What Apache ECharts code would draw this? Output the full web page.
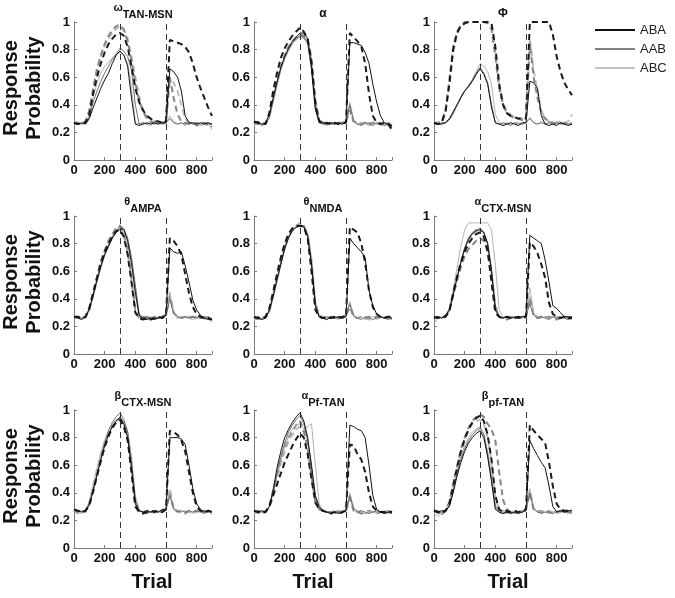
<!DOCTYPE html>
<html><head><meta charset="utf-8">
<script src="https://cdn.jsdelivr.net/npm/echarts@6/dist/echarts.min.js"></script>
<style>html,body{margin:0;padding:0;background:#fff}#c{width:675px;height:598px}</style>
</head><body><div id="c"></div>
<script>
const trials = [0,25,50,75,100,125,150,175,200,225,250,275,300,325,350,375,400,425,450,475,500,525,550,575,600,625,650,675,700,725,750,775,800,825,850,875,900];
const panelGreek = ['ω','α','Φ','θ','θ','α','β','α','β'];
const panelSub = ['TAN-MSN','','','AMPA','NMDA','CTX-MSN','CTX-MSN','Pf-TAN','pf-TAN'];
const legendNames = ['ABA','AAB','ABC'];
const xTickLabels = ['0','200','400','600','800'];
const yTickLabels = ['0','0.2','0.4','0.6','0.8','1'];

// Panel 1: omega TAN-MSN
const p1ABA  = [0.27,0.26,0.27,0.26,0.30,0.38,0.45,0.52,0.58,0.63,0.70,0.76, 0.79,0.76,0.68,0.45,0.26,0.25,0.26,0.27,0.26,0.27,0.26,0.27, 0.27,0.66,0.64,0.60,0.50,0.32,0.27,0.27,0.26,0.27,0.26,0.27,0.26];
const p1AAB  = [0.27,0.27,0.26,0.27,0.31,0.42,0.50,0.57,0.63,0.68,0.73,0.77, 0.81,0.79,0.75,0.65,0.40,0.26,0.27,0.26,0.27,0.26,0.27,0.26, 0.27,0.30,0.27,0.26,0.27,0.26,0.27,0.26,0.27,0.26,0.27,0.26,0.26];
const p1ABC  = [0.28,0.27,0.26,0.27,0.33,0.46,0.56,0.63,0.68,0.71,0.74,0.76, 0.78,0.76,0.70,0.52,0.27,0.26,0.27,0.26,0.25,0.27,0.26,0.27, 0.27,0.32,0.28,0.26,0.27,0.25,0.27,0.26,0.27,0.25,0.26,0.27,0.22];
const p1ABAd = [0.27,0.26,0.27,0.27,0.33,0.48,0.60,0.70,0.78,0.84,0.88,0.91, 0.92,0.90,0.82,0.68,0.52,0.42,0.36,0.32,0.30,0.28,0.28,0.27, 0.28,0.87,0.86,0.85,0.84,0.82,0.78,0.70,0.60,0.52,0.45,0.38,0.32];
const p1AABd = [0.27,0.26,0.27,0.28,0.36,0.52,0.66,0.76,0.84,0.90,0.94,0.97, 0.98,0.94,0.86,0.72,0.56,0.43,0.35,0.30,0.28,0.27,0.27,0.27, 0.28,0.60,0.45,0.33,0.28,0.27,0.26,0.27,0.25,0.26,0.27,0.25,0.24];
const p1ABCd = [0.28,0.27,0.26,0.27,0.35,0.50,0.64,0.75,0.83,0.88,0.92,0.95, 0.97,0.95,0.88,0.75,0.60,0.46,0.37,0.32,0.29,0.28,0.27,0.26, 0.27,0.58,0.56,0.50,0.40,0.30,0.27,0.26,0.27,0.25,0.26,0.27,0.24];
// Panel 2: alpha
const p2ABA  = [0.27,0.28,0.26,0.27,0.33,0.45,0.57,0.67,0.75,0.81,0.86,0.89, 0.92,0.92,0.88,0.68,0.38,0.28,0.27,0.26,0.27,0.26,0.27,0.26, 0.27,0.85,0.85,0.84,0.83,0.78,0.70,0.55,0.42,0.32,0.27,0.26,0.25];
const p2AAB  = [0.26,0.27,0.25,0.26,0.31,0.43,0.55,0.66,0.74,0.80,0.85,0.88, 0.90,0.89,0.85,0.65,0.36,0.27,0.26,0.27,0.26,0.27,0.26,0.27, 0.27,0.40,0.28,0.26,0.25,0.27,0.26,0.25,0.27,0.26,0.25,0.26,0.24];
const p2ABC  = [0.25,0.27,0.26,0.27,0.30,0.42,0.54,0.65,0.73,0.79,0.84,0.87, 0.89,0.88,0.84,0.66,0.38,0.27,0.26,0.25,0.27,0.26,0.27,0.26, 0.28,0.42,0.29,0.26,0.27,0.26,0.25,0.26,0.27,0.25,0.26,0.25,0.24];
const p2ABAd = [0.28,0.27,0.26,0.26,0.34,0.50,0.63,0.74,0.81,0.86,0.90,0.93, 0.96,0.93,0.88,0.70,0.40,0.28,0.26,0.27,0.26,0.27,0.26,0.27, 0.27,0.92,0.89,0.86,0.82,0.70,0.48,0.32,0.27,0.26,0.27,0.26,0.22];
const p2AABd = [0.27,0.26,0.27,0.26,0.32,0.46,0.58,0.68,0.76,0.82,0.86,0.89, 0.91,0.90,0.87,0.74,0.44,0.29,0.27,0.26,0.27,0.26,0.27,0.27, 0.28,0.36,0.28,0.27,0.26,0.27,0.26,0.27,0.26,0.27,0.26,0.27,0.25];
const p2ABCd = [0.26,0.27,0.26,0.27,0.31,0.44,0.56,0.67,0.75,0.81,0.85,0.88, 0.90,0.89,0.86,0.72,0.42,0.28,0.27,0.26,0.26,0.27,0.26,0.27, 0.28,0.38,0.27,0.26,0.27,0.26,0.27,0.26,0.26,0.27,0.26,0.27,0.24];
// Panel 3: Phi
const p3ABA  = [0.27,0.26,0.26,0.27,0.30,0.35,0.40,0.45,0.50,0.53,0.57,0.62, 0.66,0.62,0.55,0.38,0.27,0.26,0.25,0.26,0.27,0.26,0.25,0.27, 0.27,0.57,0.56,0.52,0.32,0.26,0.25,0.26,0.25,0.27,0.26,0.25,0.26];
const p3AAB  = [0.27,0.26,0.27,0.27,0.29,0.34,0.40,0.46,0.50,0.54,0.58,0.63, 0.67,0.63,0.56,0.40,0.27,0.26,0.27,0.26,0.25,0.27,0.26,0.26, 0.27,0.30,0.27,0.26,0.27,0.26,0.27,0.26,0.27,0.26,0.27,0.26,0.26];
const p3ABC  = [0.28,0.27,0.26,0.27,0.29,0.33,0.39,0.45,0.50,0.54,0.58,0.64, 0.70,0.68,0.64,0.55,0.33,0.27,0.26,0.27,0.26,0.27,0.27,0.26, 0.27,0.31,0.27,0.26,0.28,0.26,0.27,0.26,0.28,0.26,0.27,0.26,0.27];
const p3ABAd = [0.27,0.26,0.27,0.35,0.55,0.80,0.92,0.97,0.99,1.00,1.00,1.00, 1.00,1.00,1.00,0.99,0.82,0.55,0.40,0.34,0.32,0.31,0.30,0.30, 0.30,1.00,1.00,1.00,1.00,1.00,1.00,0.91,0.75,0.64,0.56,0.51,0.47];
const p3AABd = [0.26,0.27,0.28,0.36,0.58,0.82,0.93,0.98,1.00,1.00,1.00,1.00, 1.00,1.00,0.99,0.95,0.75,0.52,0.40,0.34,0.32,0.30,0.30,0.29, 0.30,0.85,0.60,0.45,0.34,0.30,0.28,0.27,0.26,0.27,0.26,0.27,0.26];
const p3ABCd = [0.27,0.27,0.27,0.34,0.54,0.78,0.91,0.97,0.99,1.00,1.00,1.00, 1.00,1.00,1.00,0.97,0.80,0.55,0.42,0.35,0.33,0.31,0.30,0.30, 0.31,0.88,0.65,0.50,0.36,0.30,0.28,0.27,0.27,0.28,0.27,0.28,0.33];
// Panel 4: theta AMPA
const p4ABA  = [0.27,0.26,0.25,0.27,0.33,0.43,0.54,0.64,0.72,0.78,0.84,0.88, 0.91,0.90,0.82,0.66,0.45,0.28,0.26,0.25,0.26,0.25,0.26,0.27, 0.28,0.77,0.74,0.73,0.74,0.64,0.52,0.39,0.32,0.28,0.26,0.25,0.25];
const p4AAB  = [0.26,0.27,0.26,0.27,0.32,0.42,0.53,0.63,0.72,0.79,0.85,0.89, 0.93,0.91,0.84,0.70,0.50,0.29,0.26,0.27,0.26,0.27,0.26,0.27, 0.28,0.40,0.29,0.27,0.26,0.27,0.26,0.27,0.26,0.27,0.26,0.27,0.25];
const p4ABC  = [0.28,0.27,0.26,0.27,0.31,0.41,0.52,0.62,0.71,0.78,0.84,0.88, 0.90,0.88,0.80,0.64,0.42,0.27,0.26,0.25,0.27,0.26,0.27,0.26, 0.28,0.45,0.30,0.27,0.26,0.27,0.26,0.25,0.26,0.27,0.25,0.26,0.24];
const p4ABAd = [0.27,0.27,0.26,0.27,0.33,0.44,0.55,0.66,0.74,0.80,0.85,0.89, 0.90,0.85,0.72,0.52,0.30,0.26,0.25,0.26,0.25,0.26,0.27,0.26, 0.28,0.84,0.82,0.78,0.72,0.58,0.44,0.34,0.29,0.27,0.26,0.26,0.25];
const p4AABd = [0.26,0.27,0.26,0.27,0.34,0.45,0.56,0.67,0.75,0.82,0.87,0.91, 0.93,0.88,0.75,0.55,0.32,0.26,0.27,0.26,0.27,0.26,0.26,0.27, 0.28,0.42,0.30,0.27,0.26,0.27,0.26,0.27,0.26,0.26,0.27,0.26,0.24];
const p4ABCd = [0.27,0.26,0.27,0.26,0.32,0.43,0.55,0.66,0.74,0.81,0.86,0.90, 0.92,0.86,0.74,0.53,0.31,0.27,0.26,0.27,0.26,0.27,0.26,0.27, 0.29,0.44,0.30,0.26,0.27,0.26,0.27,0.26,0.27,0.26,0.26,0.27,0.25];
// Panel 5: theta NMDA
const p5ABA  = [0.27,0.26,0.25,0.26,0.32,0.42,0.54,0.65,0.76,0.84,0.89,0.92, 0.93,0.92,0.85,0.65,0.35,0.27,0.26,0.25,0.27,0.26,0.27,0.26, 0.27,0.84,0.80,0.77,0.74,0.70,0.46,0.35,0.29,0.27,0.26,0.27,0.26];
const p5AAB  = [0.26,0.25,0.26,0.27,0.31,0.42,0.54,0.66,0.77,0.85,0.90,0.92, 0.93,0.93,0.86,0.66,0.36,0.27,0.26,0.27,0.26,0.27,0.26,0.27, 0.28,0.36,0.28,0.26,0.25,0.27,0.26,0.25,0.26,0.27,0.26,0.25,0.26];
const p5ABC  = [0.25,0.26,0.25,0.27,0.30,0.40,0.52,0.64,0.76,0.85,0.90,0.92, 0.92,0.93,0.88,0.70,0.38,0.27,0.26,0.25,0.27,0.26,0.25,0.27, 0.28,0.38,0.27,0.26,0.27,0.25,0.26,0.27,0.25,0.26,0.27,0.26,0.25];
const p5ABAd = [0.27,0.26,0.26,0.27,0.33,0.45,0.58,0.70,0.80,0.87,0.91,0.93, 0.93,0.92,0.84,0.60,0.32,0.27,0.26,0.27,0.26,0.27,0.26,0.27, 0.27,0.92,0.90,0.88,0.80,0.66,0.46,0.34,0.29,0.27,0.26,0.27,0.27];
const p5AABd = [0.26,0.27,0.26,0.26,0.32,0.44,0.56,0.68,0.78,0.86,0.90,0.92, 0.93,0.93,0.86,0.66,0.36,0.28,0.26,0.27,0.26,0.26,0.27,0.26, 0.28,0.34,0.27,0.26,0.27,0.26,0.27,0.26,0.27,0.26,0.26,0.27,0.26];
const p5ABCd = [0.25,0.26,0.27,0.26,0.31,0.43,0.55,0.67,0.77,0.85,0.90,0.93, 0.95,0.93,0.87,0.68,0.37,0.28,0.27,0.26,0.27,0.26,0.27,0.26, 0.28,0.37,0.27,0.26,0.27,0.26,0.25,0.26,0.27,0.26,0.27,0.26,0.26];
// Panel 6: alpha CTX-MSN
const p6ABA  = [0.26,0.27,0.26,0.28,0.32,0.43,0.55,0.66,0.76,0.83,0.87,0.89, 0.90,0.88,0.80,0.60,0.32,0.27,0.26,0.27,0.26,0.27,0.26,0.27, 0.27,0.86,0.84,0.82,0.80,0.68,0.52,0.35,0.33,0.30,0.27,0.27,0.27];
const p6AAB  = [0.25,0.27,0.26,0.27,0.31,0.42,0.55,0.67,0.77,0.84,0.88,0.90, 0.91,0.88,0.80,0.62,0.35,0.27,0.26,0.27,0.27,0.26,0.26,0.27, 0.28,0.36,0.28,0.26,0.27,0.26,0.25,0.27,0.26,0.27,0.26,0.25,0.26];
const p6ABC  = [0.22,0.26,0.27,0.28,0.33,0.47,0.62,0.78,0.90,0.95,0.95,0.95, 0.95,0.95,0.95,0.90,0.65,0.32,0.27,0.26,0.27,0.26,0.27,0.26, 0.28,0.48,0.30,0.27,0.26,0.27,0.26,0.27,0.26,0.27,0.26,0.26,0.25];
const p6ABAd = [0.27,0.26,0.27,0.27,0.31,0.44,0.56,0.66,0.74,0.80,0.84,0.87, 0.88,0.85,0.75,0.52,0.30,0.27,0.26,0.27,0.26,0.26,0.27,0.26, 0.27,0.81,0.78,0.73,0.65,0.55,0.37,0.29,0.27,0.26,0.27,0.26,0.26];
const p6AABd = [0.26,0.27,0.26,0.27,0.31,0.42,0.53,0.63,0.71,0.76,0.79,0.82, 0.84,0.82,0.74,0.58,0.34,0.27,0.26,0.25,0.26,0.27,0.26,0.26, 0.27,0.40,0.28,0.26,0.27,0.26,0.27,0.26,0.25,0.26,0.27,0.26,0.25];
const p6ABCd = [0.27,0.26,0.27,0.27,0.32,0.44,0.56,0.67,0.76,0.83,0.87,0.90, 0.91,0.88,0.78,0.58,0.32,0.27,0.26,0.27,0.26,0.27,0.26,0.27, 0.28,0.42,0.29,0.27,0.26,0.27,0.26,0.26,0.27,0.26,0.27,0.26,0.25];
// Panel 7: beta CTX-MSN
const p7ABA  = [0.28,0.27,0.26,0.27,0.32,0.42,0.53,0.64,0.74,0.82,0.88,0.92, 0.95,0.90,0.80,0.58,0.32,0.27,0.26,0.27,0.26,0.27,0.26,0.28, 0.28,0.80,0.80,0.80,0.79,0.75,0.60,0.43,0.32,0.28,0.26,0.27,0.26];
const p7AAB  = [0.27,0.26,0.27,0.26,0.31,0.41,0.53,0.65,0.76,0.85,0.91,0.95, 0.98,0.93,0.84,0.63,0.35,0.27,0.26,0.25,0.26,0.27,0.26,0.27, 0.28,0.38,0.28,0.26,0.27,0.26,0.27,0.26,0.27,0.26,0.25,0.27,0.26];
const p7ABC  = [0.27,0.26,0.25,0.27,0.34,0.46,0.58,0.69,0.78,0.85,0.90,0.93, 0.94,0.92,0.85,0.66,0.38,0.28,0.26,0.27,0.26,0.25,0.27,0.26, 0.28,0.42,0.29,0.27,0.26,0.27,0.26,0.25,0.26,0.27,0.26,0.27,0.24];
const p7ABAd = [0.28,0.27,0.26,0.27,0.31,0.41,0.52,0.63,0.73,0.81,0.87,0.91, 0.93,0.88,0.78,0.55,0.30,0.26,0.25,0.26,0.27,0.26,0.27,0.26, 0.28,0.85,0.84,0.82,0.78,0.70,0.55,0.40,0.30,0.27,0.26,0.27,0.26];
const p7AABd = [0.26,0.27,0.26,0.27,0.32,0.43,0.55,0.66,0.75,0.83,0.88,0.91, 0.93,0.89,0.79,0.57,0.31,0.27,0.26,0.27,0.26,0.27,0.26,0.27, 0.28,0.40,0.28,0.27,0.26,0.25,0.27,0.26,0.27,0.26,0.27,0.26,0.25];
const p7ABCd = [0.27,0.25,0.26,0.26,0.33,0.45,0.57,0.68,0.77,0.84,0.89,0.92, 0.93,0.90,0.82,0.60,0.33,0.27,0.26,0.25,0.26,0.27,0.26,0.26, 0.29,0.43,0.29,0.26,0.27,0.26,0.26,0.27,0.26,0.27,0.26,0.26,0.24];
// Panel 8: alpha Pf-TAN
const p8ABA  = [0.27,0.26,0.27,0.26,0.30,0.42,0.58,0.70,0.80,0.86,0.91,0.95, 0.98,0.92,0.80,0.60,0.38,0.30,0.27,0.26,0.25,0.26,0.25,0.26, 0.27,0.89,0.88,0.86,0.85,0.80,0.60,0.38,0.28,0.26,0.25,0.26,0.26];
const p8AAB  = [0.26,0.27,0.26,0.27,0.30,0.40,0.54,0.66,0.76,0.84,0.89,0.93, 0.96,0.90,0.78,0.58,0.36,0.29,0.27,0.26,0.25,0.26,0.27,0.25, 0.27,0.38,0.28,0.26,0.27,0.26,0.25,0.26,0.27,0.26,0.25,0.26,0.25];
const p8ABC  = [0.26,0.25,0.26,0.27,0.30,0.40,0.52,0.63,0.73,0.81,0.86,0.89, 0.90,0.86,0.88,0.90,0.60,0.32,0.27,0.26,0.25,0.26,0.27,0.26, 0.27,0.40,0.29,0.27,0.26,0.25,0.27,0.26,0.25,0.26,0.27,0.25,0.26];
const p8ABAd = [0.27,0.26,0.25,0.26,0.30,0.38,0.46,0.54,0.62,0.68,0.74,0.79, 0.83,0.80,0.68,0.50,0.33,0.28,0.27,0.26,0.25,0.26,0.25,0.26, 0.27,0.75,0.74,0.68,0.64,0.55,0.40,0.30,0.27,0.26,0.26,0.27,0.26];
const p8AABd = [0.26,0.27,0.26,0.26,0.31,0.42,0.53,0.64,0.73,0.80,0.85,0.89, 0.92,0.85,0.72,0.52,0.33,0.28,0.27,0.26,0.26,0.25,0.26,0.26, 0.27,0.36,0.27,0.26,0.25,0.26,0.27,0.26,0.25,0.26,0.27,0.26,0.25];
const p8ABCd = [0.25,0.26,0.26,0.27,0.29,0.39,0.50,0.61,0.70,0.77,0.82,0.86, 0.88,0.84,0.74,0.56,0.36,0.29,0.27,0.26,0.26,0.27,0.26,0.27, 0.28,0.38,0.28,0.26,0.27,0.25,0.26,0.27,0.26,0.25,0.26,0.27,0.25];
// Panel 9: beta pf-TAN
const p9ABA  = [0.28,0.26,0.27,0.27,0.30,0.40,0.52,0.62,0.70,0.76,0.80,0.83, 0.85,0.80,0.66,0.48,0.28,0.26,0.25,0.26,0.25,0.26,0.25,0.26, 0.27,0.78,0.72,0.67,0.62,0.58,0.45,0.30,0.26,0.27,0.26,0.27,0.27];
const p9AAB  = [0.27,0.25,0.26,0.27,0.31,0.41,0.54,0.64,0.72,0.78,0.82,0.85, 0.87,0.82,0.68,0.50,0.30,0.26,0.25,0.26,0.26,0.25,0.26,0.27, 0.28,0.40,0.28,0.26,0.25,0.26,0.26,0.25,0.26,0.27,0.26,0.26,0.25];
const p9ABC  = [0.25,0.23,0.25,0.27,0.32,0.43,0.56,0.66,0.74,0.80,0.84,0.86, 0.88,0.83,0.70,0.52,0.31,0.27,0.26,0.25,0.26,0.27,0.26,0.26, 0.28,0.43,0.29,0.26,0.27,0.26,0.25,0.26,0.27,0.26,0.26,0.25,0.26];
const p9ABAd = [0.27,0.26,0.25,0.27,0.32,0.45,0.58,0.70,0.79,0.86,0.91,0.94, 0.96,0.92,0.82,0.64,0.38,0.28,0.26,0.27,0.26,0.27,0.26,0.27, 0.28,0.89,0.85,0.82,0.79,0.76,0.62,0.45,0.32,0.28,0.27,0.27,0.28];
const p9AABd = [0.26,0.27,0.24,0.28,0.33,0.46,0.59,0.71,0.80,0.87,0.92,0.95, 0.97,0.95,0.90,0.86,0.78,0.55,0.35,0.28,0.26,0.27,0.26,0.27, 0.28,0.40,0.28,0.27,0.26,0.27,0.26,0.25,0.26,0.27,0.26,0.27,0.26];
const p9ABCd = [0.27,0.26,0.25,0.26,0.31,0.44,0.57,0.69,0.78,0.85,0.90,0.92, 0.93,0.90,0.80,0.62,0.36,0.28,0.27,0.26,0.27,0.26,0.27,0.26, 0.28,0.42,0.29,0.26,0.27,0.26,0.27,0.26,0.25,0.26,0.27,0.26,0.26];

const panels = [
  [p1ABA,p1AAB,p1ABC,p1ABAd,p1AABd,p1ABCd],
  [p2ABA,p2AAB,p2ABC,p2ABAd,p2AABd,p2ABCd],
  [p3ABA,p3AAB,p3ABC,p3ABAd,p3AABd,p3ABCd],
  [p4ABA,p4AAB,p4ABC,p4ABAd,p4AABd,p4ABCd],
  [p5ABA,p5AAB,p5ABC,p5ABAd,p5AABd,p5ABCd],
  [p6ABA,p6AAB,p6ABC,p6ABAd,p6AABd,p6ABCd],
  [p7ABA,p7AAB,p7ABC,p7ABAd,p7AABd,p7ABCd],
  [p8ABA,p8AAB,p8ABC,p8ABAd,p8AABd,p8ABCd],
  [p9ABA,p9AAB,p9ABC,p9ABAd,p9AABd,p9ABCd]
];

const FONT = 'Liberation Sans, Arial, Helvetica, sans-serif';
const colors = ['#111111','#707070','#b4b4b4'];
const dashColors = ['#1a1a1a','#858585','#bdbdbd'];
const lefts = [74,254,434], tops = [22,216,410], W = 138, H = 138;

const grid = [], xAxis = [], yAxis = [], series = [], title = [];
for (let i = 0; i < 9; i++) {
  const r = Math.floor(i/3), c = i%3;
  grid.push({left: lefts[c], top: tops[r], width: W, height: H});
  xAxis.push({gridIndex:i, type:'value', min:0, max:900, interval:200,
    axisLine:{lineStyle:{color:'#7a7a7a', width:1}},
    axisTick:{inside:true, length:3, lineStyle:{color:'#7a7a7a'}},
    splitLine:{show:false},
    axisLabel:{color:'#111', fontWeight:'bold', fontSize:13, fontFamily:FONT, margin:4,
      formatter: v => { const k = Math.round(v/200); return (v % 200 === 0 && k < xTickLabels.length) ? xTickLabels[k] : ''; }}
  });
  yAxis.push({gridIndex:i, type:'value', min:0, max:1, interval:0.2,
    axisLine:{show:true, lineStyle:{color:'#7a7a7a', width:1}},
    axisTick:{show:true, inside:true, length:3, lineStyle:{color:'#7a7a7a'}},
    splitLine:{show:false},
    axisLabel:{color:'#111', fontWeight:'bold', fontSize:13, fontFamily:FONT, margin:4,
      formatter: v => yTickLabels[Math.round(v*5)]}
  });
  const sub = panelSub[i];
  title.push({
    text: sub ? '{g|' + panelGreek[i] + '}{s|' + sub + '}' : '{h|' + panelGreek[i] + '}',
    left: lefts[c] + W/2, top: tops[r] - 20, textAlign:'center', padding:0,
    textStyle:{rich:{
      g:{fontSize:11, fontFamily:FONT, color:'#111', verticalAlign:'top', lineHeight:18},
      s:{fontSize:11, fontFamily:FONT, fontWeight:'bold', color:'#111', verticalAlign:'bottom', lineHeight:18},
      h:{fontSize:12, fontFamily:FONT, color:'#111', verticalAlign:'bottom', lineHeight:18}
    }}
  });
  const arrs = panels[i];
  // draw order: light dashed, gray dashed, light solid, gray solid, black dashed, black solid
  const order = [[5,'d',2],[4,'d',1],[2,'s',2],[1,'s',1],[3,'d',0],[0,'s',0]];
  order.forEach((o, j) => {
    const arr = arrs[o[0]];
    const isDash = o[1] === 'd';
    const col = isDash ? dashColors[o[2]] : colors[o[2]];
    const s = {
      type:'line', name: legendNames[o[2]] + (isDash ? ' (dashed)' : ''),
      xAxisIndex:i, yAxisIndex:i, symbol:'none', showSymbol:false, silent:true, animation:false,
      lineStyle:{color:col, width: isDash ? 2 : 1, type: isDash ? [6,4] : 'solid'},
      itemStyle:{color:col},
      data: trials.map((t,k) => [t, arr[k]])
    };
    if (j === 0) {
      s.markLine = {silent:true, symbol:'none', animation:false, label:{show:false},
        lineStyle:{color:'#333', width:1, type:[6,4]},
        data:[{xAxis:300},{xAxis:600}]};
    }
    series.push(s);
  });
}

const graphic = [];
// y axis titles
for (let r = 0; r < 3; r++) {
  const cy = tops[r] + H/2 - 3;
  graphic.push({type:'text', x:11, y:cy, rotation:Math.PI/2,
    style:{text:'Response', font:'bold 20px ' + FONT, fill:'#111', textAlign:'center', textVerticalAlign:'middle'}});
  graphic.push({type:'text', x:34, y:cy, rotation:Math.PI/2,
    style:{text:'Probability', font:'bold 20px ' + FONT, fill:'#111', textAlign:'center', textVerticalAlign:'middle'}});
}
// x axis titles
[152,313,508].forEach(x => graphic.push({type:'text', x:x, y:582,
  style:{text:'Trial', font:'bold 20px ' + FONT, fill:'#111', textAlign:'center', textVerticalAlign:'middle'}}));
// legend
legendNames.forEach((n, k) => {
  const y = 30 + k*19;
  graphic.push({type:'line', shape:{x1:595, y1:y, x2:635, y2:y}, style:{stroke: k===0?'#111':(k===1?'#808080':'#c4c4c4'), lineWidth:2}});
  graphic.push({type:'text', x:640, y:y, style:{text:n, font:'13px ' + FONT, fill:'#222', textAlign:'left', textVerticalAlign:'middle'}});
});

const chart = echarts.init(document.getElementById('c'), null, {renderer:'canvas'});
chart.setOption({animation:false, backgroundColor:'#fff', title, grid, xAxis, yAxis, series, graphic});
</script></body></html>
